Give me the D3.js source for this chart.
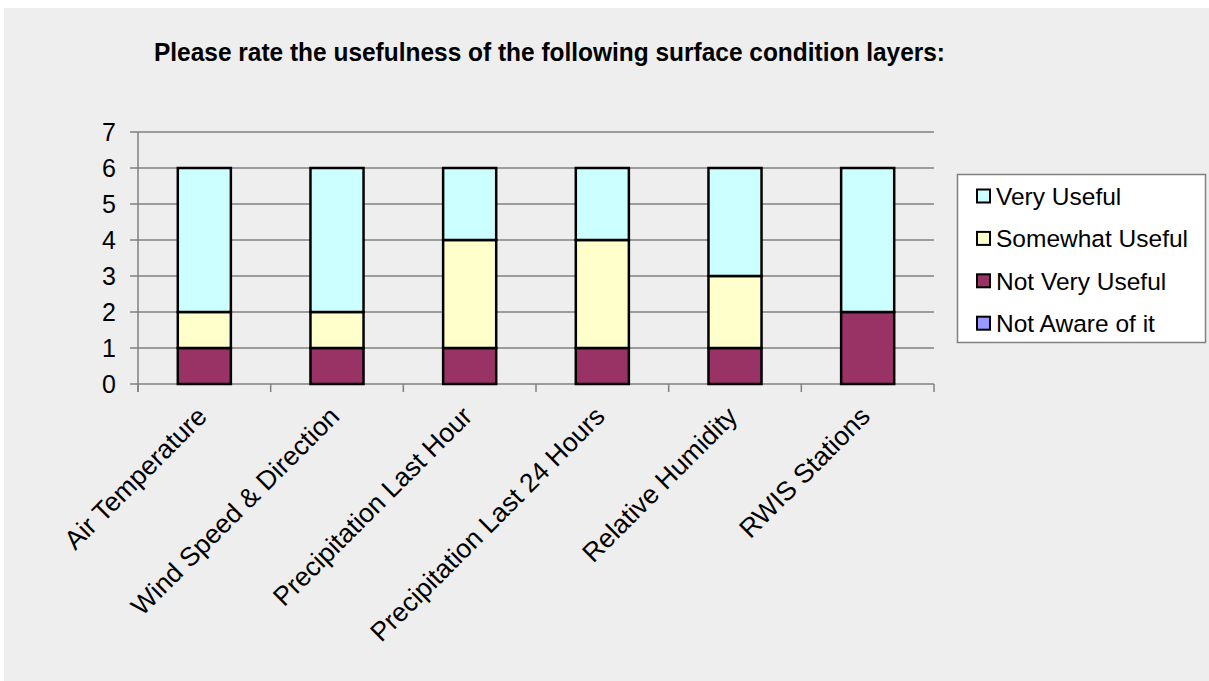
<!DOCTYPE html>
<html><head><meta charset="utf-8">
<script src="https://cdn.jsdelivr.net/npm/d3@7"></script>
<style>body{margin:0;background:#fff}svg{display:block}</style>
</head><body>
<script>
const categories = ["Air Temperature","Wind Speed & Direction","Precipitation Last Hour","Precipitation Last 24 Hours","Relative Humidity","RWIS Stations"];
const seriesNames = ["Not Aware of it","Not Very Useful","Somewhat Useful","Very Useful"];
const notAware = [0,0,0,0,0,0];
const notVeryUseful = [1,1,1,1,1,2];
const somewhatUseful = [1,1,3,3,2,0];
const veryUseful = [4,4,2,2,3,4];
const yTicks = [0,1,2,3,4,5,6,7];
const colors = {"Not Aware of it":"#9999ff","Not Very Useful":"#993366","Somewhat Useful":"#ffffcc","Very Useful":"#ccffff"};
const title = "Please rate the usefulness of the following surface condition layers:";

const W=1209,H=681;
const svg=d3.select("body").append("svg").attr("width",W).attr("height",H);
svg.append("rect").attr("x",4).attr("y",8).attr("width",W-4).attr("height",H-8).attr("fill","#eeeeee");

const font="'Liberation Sans', Arial, sans-serif";
svg.append("text").attr("x",549.5).attr("y",61).attr("text-anchor","middle")
  .attr("font-family",font).attr("font-weight","bold").attr("font-size",26.5)
  .attr("textLength",791).attr("lengthAdjust","spacingAndGlyphs")
  .text(title);

const pLeft=138,pRight=934,pTop=132,pBottom=384;
const x=d3.scaleBand().domain(categories).range([pLeft,pRight]).paddingInner(0.6).paddingOuter(0.3);
const y=d3.scaleLinear().domain([0,7]).range([pBottom,pTop]);

const rows=categories.map((c,i)=>({cat:c,"Not Aware of it":notAware[i],"Not Very Useful":notVeryUseful[i],"Somewhat Useful":somewhatUseful[i],"Very Useful":veryUseful[i]}));
const stack=d3.stack().keys(seriesNames)(rows);

svg.append("g").selectAll("line").data(yTicks).join("line")
  .attr("x1",pLeft-8).attr("x2",pRight).attr("y1",d=>y(d)).attr("y2",d=>y(d))
  .attr("stroke","#808080").attr("stroke-width",1.5);
svg.append("line").attr("x1",pLeft).attr("x2",pLeft).attr("y1",pTop).attr("y2",pBottom+8).attr("stroke","#808080").attr("stroke-width",1.5);
const xt=d3.range(categories.length+1).map(i=>pLeft+i*x.step());
svg.append("g").selectAll("line").data(xt).join("line")
  .attr("x1",d=>d).attr("x2",d=>d).attr("y1",pBottom).attr("y2",pBottom+8)
  .attr("stroke","#808080").attr("stroke-width",1.5);

svg.append("g").selectAll("text").data(yTicks).join("text")
  .attr("x",pLeft-22).attr("y",d=>y(d)).attr("dy","0.36em").attr("text-anchor","end")
  .attr("font-family",font).attr("font-size",25).attr("fill","#000").text(d=>d);

svg.append("g").selectAll("g").data(stack).join("g").attr("fill",d=>colors[d.key])
  .selectAll("rect").data(d=>d.filter(s=>s[1]-s[0]>0)).join("rect")
  .attr("x",d=>x(d.data.cat)).attr("width",x.bandwidth())
  .attr("y",d=>y(d[1])).attr("height",d=>y(d[0])-y(d[1]))
  .attr("stroke","#000").attr("stroke-width",2.5);

svg.append("g").selectAll("text").data(categories).join("text")
  .attr("transform",d=>`translate(${x(d)+x.bandwidth()/2+4},${pBottom+34}) rotate(-45)`)
  .attr("text-anchor","end").attr("font-family",font).attr("font-size",26.5).attr("fill","#000").text(d=>d);

const lg=svg.append("g");
lg.append("rect").attr("x",957.5).attr("y",174.5).attr("width",248).attr("height",168)
  .attr("fill","#fff").attr("stroke","#808080").attr("stroke-width",1.5);
const legOrder=["Very Useful","Somewhat Useful","Not Very Useful","Not Aware of it"];
const li=lg.selectAll("g").data(legOrder).join("g").attr("transform",(d,i)=>`translate(977,${196+i*42.4})`);
li.append("rect").attr("x",0).attr("y",-6.5).attr("width",13).attr("height",13).attr("fill",d=>colors[d]).attr("stroke","#000").attr("stroke-width",2);
li.append("text").attr("x",19).attr("y",0).attr("dy","0.36em").attr("font-family",font).attr("font-size",24.5).attr("fill","#000").text(d=>d);
</script>
</body></html>
